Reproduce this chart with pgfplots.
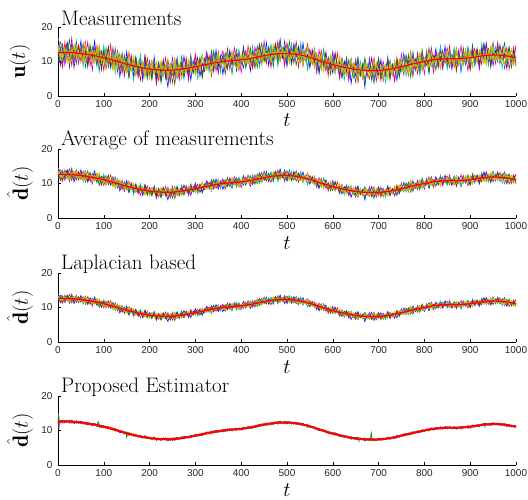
\documentclass[border=0pt]{standalone}
\usepackage{fontspec}
\setsansfont{Liberation Sans}
\usepackage{pgfplots}
\usepackage{pgfplotstable}
\pgfplotsset{compat=1.18}
\definecolor{mb}{rgb}{0,0,1}
\definecolor{mg}{rgb}{0,0.5,0}
\definecolor{mr}{rgb}{1,0,0}
\definecolor{mc}{rgb}{0,0.75,0.75}
\definecolor{mm}{rgb}{0.75,0,0.75}
\definecolor{my}{rgb}{0.75,0.75,0}
\definecolor{mk}{rgb}{0.25,0.25,0.25}
\pgfplotstableread{
t b n1 n2 n3 n4 n5 n6 n7
0 12.6 3 -5 2 7 -1 4 -3
5 12.6 -6 1 -2 3 5 -4 2
10 12.6 2 4 -7 -1 3 1 -5
15 12.6 -3 -2 5 -4 -6 3 1
20 12.6 5 -1 -3 2 1 -6 4
25 12.6 -1 6 1 -5 -2 2 -7
30 12.54 4 -3 -6 1 7 -1 3
35 12.48 -7 2 3 -2 -4 5 -1
40 12.42 1 -5 -1 6 2 -3 5
45 12.36 -2 3 4 -3 -5 1 -2
50 12.3 6 -1 -4 2 3 -2 1
55 12.2 -4 5 2 -6 -1 4 -3
60 12.1 2 -6 -2 4 6 -5 2
65 12.0 -5 1 6 -1 -3 2 -6
70 11.9 3 -2 -5 5 1 -1 4
75 11.8 -1 4 1 -3 -7 3 -2
80 11.66 7 -3 -1 2 4 -4 1
85 11.52 -3 2 5 -5 -2 6 -4
90 11.38 1 -7 -3 3 5 -2 3
95 11.24 -6 3 2 -1 -1 1 -5
100 11.1 4 -1 -6 6 2 -3 2
105 10.92 -2 5 3 -4 -5 5 -1
110 10.74 5 -4 -2 1 3 -1 6
115 10.56 -4 1 7 -2 -2 2 -3
120 10.38 2 -2 -4 4 6 -6 1
125 10.2 -1 6 1 -6 -3 3 -2
130 10.0 3 -5 -1 2 1 -2 5
135 9.8 -7 2 4 -3 -4 4 -1
140 9.6 1 -3 -5 5 4 -1 2
145 9.4 -3 4 2 -1 -6 2 -4
150 9.2 6 -1 -3 3 2 -5 3
155 9.04 -2 -6 6 -4 -1 1 -6
160 8.88 4 3 -2 1 5 -3 1
165 8.72 -5 -1 3 -7 -2 6 -2
170 8.56 2 5 -4 2 3 -2 4
175 8.4 -1 -4 1 -2 -5 3 -3
180 8.28 5 2 -6 6 1 -1 2
185 8.16 -6 -2 2 -3 -3 4 -1
190 8.04 3 6 -1 1 6 -4 5
195 7.92 -2 -3 5 -5 -1 2 -4
200 7.8 1 1 -3 3 4 -6 1
205 7.74 -4 -5 4 -1 -2 1 -2
210 7.68 6 3 -2 4 2 -2 3
215 7.62 -3 -1 1 -6 -7 5 -5
220 7.56 2 4 -5 2 3 -1 2
225 7.5 -5 -6 3 -2 -1 3 -1
230 7.5 4 1 -1 5 5 -4 4
235 7.5 -1 -3 6 -3 -4 2 -3
240 7.5 -8 5 -4 1 2 -3 1
245 7.5 3 -2 2 -4 -2 4 -6
250 7.5 -2 2 -6 3 6 -1 2
255 7.58 5 -7 1 -1 -3 2 -2
260 7.66 -4 3 4 6 1 -5 5
265 7.74 1 -1 -3 -2 -5 3 -1
270 7.82 -3 6 2 1 3 -2 3
275 7.9 6 -2 -1 -5 -1 1 -4
280 8.02 -1 1 5 3 4 -3 1
285 8.14 2 -4 -4 -1 -6 5 -2
290 8.26 -6 3 1 4 2 -1 6
295 8.38 3 -1 -2 -3 -2 2 -3
300 8.5 -2 5 6 2 5 -4 2
305 8.64 4 -3 -3 -6 -1 1 -1
310 8.78 -5 2 2 1 3 -2 4
315 8.92 1 -6 -5 5 -4 6 -5
320 9.06 -3 1 3 -2 1 -1 1
325 9.2 5 4 -1 3 6 -3 -2
330 9.32 -1 -2 4 -4 -2 2 3
335 9.44 2 6 -6 1 4 -5 -1
340 9.56 -4 -1 1 6 -3 3 5
345 9.68 6 3 -2 -1 1 -1 -4
350 9.8 -2 -5 5 2 -5 4 2
355 9.88 3 2 -3 -5 2 -2 -1
360 9.96 -6 -1 2 3 5 1 3
365 10.04 1 4 -1 -2 -1 -4 -6
370 10.12 -3 -3 6 4 -4 2 1
375 10.2 5 1 -4 -1 3 -1 4
380 10.26 -1 -6 2 -6 -2 5 -2
385 10.32 2 2 -2 2 6 -2 2
390 10.38 -5 5 3 -3 -1 1 -3
395 10.44 4 -2 -5 5 2 -6 1
400 10.5 -2 1 1 -1 -6 3 -1
405 10.6 6 -4 4 2 1 -1 5
410 10.7 -3 3 -3 -4 4 2 -4
415 10.8 1 -1 6 1 -2 -3 2
420 10.9 -6 5 -1 -2 3 4 -2
425 11.0 3 -2 -5 6 -4 -1 3
430 11.14 -1 2 2 -3 5 1 -5
435 11.28 5 -5 -2 1 -1 -4 1
440 11.42 -4 1 5 -5 2 3 6
445 11.56 2 6 -3 3 -3 -2 -1
450 11.7 -2 -3 1 -1 7 5 2
455 11.8 6 2 -4 4 -2 -1 -3
460 11.9 -5 -1 3 -2 1 2 4
465 12.0 1 4 -6 5 -5 -5 -2
470 12.1 -3 -6 2 -1 3 1 1
475 12.2 4 3 -1 2 -1 -2 5
480 12.22 -1 -2 6 -6 4 4 -4
485 12.24 7 5 -3 1 -3 -1 2
490 12.26 -2 -1 1 3 2 3 -1
495 12.28 3 2 -5 -3 -6 -3 6
500 12.3 -6 -4 4 2 5 1 -2
505 12.24 2 6 -2 -1 -1 -4 1
510 12.18 -4 -1 3 5 2 2 -5
515 12.12 5 3 -1 -4 -4 -1 3
520 12.06 -1 -5 5 1 6 5 -1
525 12.0 3 1 -6 -2 -2 -2 4
530 11.84 -3 4 2 6 1 1 -3
535 11.68 6 -2 -3 -3 -5 -6 2
540 11.52 -2 2 1 2 3 3 -1
545 11.36 1 -6 6 -5 -1 -1 5
550 11.2 -5 3 -2 3 4 2 -4
555 10.98 4 -1 3 -1 -3 -3 1
560 10.76 -1 5 -4 4 2 6 -2
565 10.54 2 -3 1 -6 -6 -1 3
570 10.32 -6 1 -1 1 5 2 -6
575 10.1 3 -4 5 -2 -1 -4 2
580 9.9 -2 6 -3 5 1 1 -1
585 9.7 5 -1 2 -3 -4 3 4
590 9.5 -3 2 -6 2 3 -2 -3
595 9.3 1 -5 4 -1 -2 5 1
600 9.1 -4 3 -1 6 6 -1 -2
605 8.94 6 -2 -2 -4 -3 -5 5
610 8.78 -1 1 6 1 1 2 -1
615 8.62 2 -6 -4 -2 -5 -1 2
620 8.46 -5 4 2 3 4 4 -5
625 8.3 3 -1 -3 -6 -1 -3 1
630 8.18 -2 5 1 2 2 1 3
635 8.06 4 -3 -5 -1 -6 -2 -2
640 7.94 -7 2 4 5 3 6 4
645 7.82 1 -4 -1 -3 -1 -4 -1
650 7.7 -3 1 3 1 5 2 -6
655 7.64 5 6 -6 -4 -2 -1 2
660 7.58 -2 -2 2 4 1 3 -3
665 7.52 2 3 -2 -2 -4 -5 1
670 7.46 -8 -5 5 6 2 1 5
675 7.4 3 1 -1 -1 -3 4 -2
680 7.4 -1 4 -4 3 6 -2 1
685 7.4 6 -1 1 -5 -1 2 -4
690 7.4 -4 -6 6 1 3 -3 3
695 7.4 1 2 -2 -2 -5 5 -1
700 7.4 -2 5 3 5 2 -1 6
705 7.48 5 -3 -5 -3 -2 1 -3
710 7.56 -5 1 1 2 4 -6 1
715 7.64 2 -2 -3 -6 -1 3 -2
720 7.72 -1 6 4 1 5 -1 4
725 7.8 4 -4 -1 4 -4 2 -5
730 7.94 -3 2 2 -1 1 -4 2
735 8.08 1 -1 -6 3 -6 5 -1
740 8.22 -6 3 5 -4 3 -2 3
745 8.36 3 -5 -2 2 -1 1 -4
750 8.5 -2 1 1 -2 6 4 1
755 8.66 6 4 -4 5 -2 -3 -2
760 8.82 -1 -2 3 -5 2 2 5
765 8.98 2 5 -1 1 -5 -1 -1
770 9.14 -4 -6 6 -3 1 -5 3
775 9.3 5 2 -3 6 4 3 -6
780 9.44 -3 -1 2 -1 -3 -2 2
785 9.58 1 3 -5 2 5 1 -1
790 9.72 -5 -3 1 -6 -1 6 4
795 9.86 4 6 4 3 2 -3 -3
800 10.0 -1 -2 -2 -2 -6 2 1
805 10.12 3 1 5 4 3 -1 -2
810 10.24 -6 -5 -3 -1 -2 -4 6
815 10.36 2 4 1 5 6 5 -1
820 10.48 -2 -1 -6 -4 -1 -2 2
825 10.6 5 2 3 1 4 1 -5
830 10.64 -4 -3 -1 -3 -3 3 3
835 10.68 1 6 4 6 1 -6 -1
840 10.72 -3 -2 -4 -1 -5 2 4
845 10.76 6 1 2 2 2 -1 -2
850 10.8 -1 -4 -2 -5 5 4 1
855 10.8 3 3 6 3 -2 -3 -4
860 10.8 -5 -1 -3 -1 1 1 2
865 10.8 2 5 1 4 -4 -2 -1
870 10.8 -2 -6 -5 -2 3 5 5
875 10.8 4 2 3 1 -1 -4 -3
880 10.86 -6 -1 -1 -6 6 1 1
885 10.92 1 4 5 3 -3 -1 -2
890 10.98 -3 -3 -2 -2 2 6 3
895 11.04 5 1 2 5 -6 -2 -1
900 11.1 -1 -5 -6 -1 1 2 -5
905 11.2 3 6 1 2 4 -5 2
910 11.3 -4 -2 4 -4 -2 3 -1
915 11.4 2 3 -3 1 3 -1 4
920 11.5 -6 -4 2 -3 -5 4 -3
925 11.6 4 1 -4 6 2 -2 1
930 11.66 -2 5 5 -1 -1 1 6
935 11.72 6 -2 -1 2 5 -6 -2
940 11.78 -1 2 3 -5 -3 3 3
945 11.84 3 -6 -5 3 1 -1 -4
950 11.9 -5 4 1 -2 6 5 1
955 11.86 2 -1 -2 4 -4 -3 -1
960 11.82 -3 3 6 -1 2 2 5
965 11.78 5 -4 -3 1 -2 -4 -3
970 11.74 -2 1 2 -6 4 1 2
975 11.7 1 6 -1 3 -6 4 -5
980 11.58 -6 -3 4 -2 1 -2 1
985 11.46 4 2 -6 5 3 3 4
990 11.34 -1 -5 1 -3 -1 -1 -2
995 11.22 3 1 -2 2 5 -5 3
1000 11.1 -4 5 6 -1 -3 2 -1
}\noise
\pgfplotstableread{
t y
0 12.6
25 12.6
50 12.3
75 11.8
100 11.1
125 10.2
150 9.2
175 8.4
200 7.8
225 7.5
250 7.5
275 7.9
300 8.5
325 9.2
350 9.8
375 10.2
400 10.5
425 11.0
450 11.7
475 12.2
500 12.3
525 12.0
550 11.2
575 10.1
600 9.1
625 8.3
650 7.7
675 7.4
700 7.4
725 7.8
750 8.5
775 9.3
800 10.0
825 10.6
850 10.8
875 10.8
900 11.1
925 11.6
950 11.9
975 11.7
1000 11.1
}\knots
\newcommand{\noiseplots}[2]{%
\addplot[mb, line width=0.55pt] table[x=t, y expr=\thisrow{b}+#1*\thisrow{n1}]{\noise};
\addplot[mg, line width=0.55pt] table[x=t, y expr=\thisrow{b}+#1*\thisrow{n2}]{\noise};
\addplot[mr, line width=0.55pt] table[x=t, y expr=\thisrow{b}+#1*\thisrow{n3}]{\noise};
\addplot[mc, line width=0.55pt] table[x=t, y expr=\thisrow{b}+#1*\thisrow{n4}]{\noise};
\addplot[mm, line width=0.55pt] table[x=t, y expr=\thisrow{b}+#1*\thisrow{n5}]{\noise};
\addplot[mk, line width=0.55pt] table[x=t, y expr=\thisrow{b}+#1*\thisrow{n7}]{\noise};
\addplot[my, line width=0.8pt] table[x=t, y expr=\thisrow{b}+#2*\thisrow{n6}]{\noise};
\addplot[my, line width=0.8pt] table[x=t, y expr=\thisrow{b}-#2*\thisrow{n2}]{\noise};
}
\pgfplotsset{
  panel/.style={
    scale only axis, width=458pt, height=69pt,
    xmin=0, xmax=1000, ymin=0, ymax=20,
    axis x line*=bottom, axis y line*=left,
    axis line style={-, black},
    tick align=inside, major tick length=3pt,
    tick style={black, line width=0.4pt},
    xtick={0,100,...,1000}, ytick={0,10,20},
    ticklabel style={font=\fontsize{10}{12}\selectfont\sffamily, text=black!85},
    /pgf/number format/assume math mode=true,
    /pgf/number format/1000 sep={},
    scaled x ticks=false,
    xticklabel style={yshift=-1pt},
    yticklabel style={xshift=-2pt},
    title style={at={(axis description cs:0,1)}, anchor=base west, inner sep=0pt, xshift=3pt, yshift=-2pt, font=\fontsize{21}{24}\selectfont},
    xlabel={$t$},
    xlabel style={at={(axis description cs:0.5,0)}, anchor=base, inner sep=0pt, yshift=-31pt, font=\fontsize{21}{24}\selectfont},
    ylabel style={at={(axis description cs:-0.083,0.5)}, anchor=center, inner sep=2pt, font=\fontsize{22}{26}\selectfont},
  }
}
\begin{document}
\begin{tikzpicture}
\useasboundingbox (-58pt,27pt) rectangle (470pt,-473pt);
\begin{axis}[panel, at={(0pt,0pt)}, anchor=north west, title={Measurements}, title style={yshift=-3pt}, ylabel={$\mathbf{u}(t)$}]
\noiseplots{0.62}{0.45}
\addplot[mr, line width=1.2pt, smooth] table[x=t, y=y]{\knots};
\end{axis}
\begin{axis}[panel, at={(0pt,-122pt)}, anchor=north west, title={Average of measurements}, ylabel={$\hat{\mathbf{d}}(t)$}]
\noiseplots{0.28}{0.22}
\addplot[mr, line width=1.3pt, smooth] table[x=t, y=y]{\knots};
\end{axis}
\begin{axis}[panel, at={(0pt,-246pt)}, anchor=north west, title={Laplacian based}, ylabel={$\hat{\mathbf{d}}(t)$}]
\noiseplots{0.2}{0.15}
\addplot[mr, line width=1.4pt, smooth] table[x=t, y=y]{\knots};
\end{axis}
\begin{axis}[panel, at={(0pt,-369pt)}, anchor=north west, title={Proposed Estimator}, ylabel={$\hat{\mathbf{d}}(t)$}]
\noiseplots{0.07}{0.05}
\addplot[mg, line width=0.6pt] coordinates {(0,12.6) (1,15.0) (3,12.6)};
\addplot[mm, line width=0.6pt] coordinates {(0,12.6) (2,10.6) (4,12.6)};
\addplot[mg, line width=0.6pt] coordinates {(85,11.5) (88,12.6) (91,11.4)};
\addplot[mg, line width=0.6pt] coordinates {(148,9.3) (150,8.0) (152,9.2)};
\addplot[mg, line width=0.6pt] coordinates {(682,7.4) (684,9.4) (686,7.4)};
\addplot[mc, line width=0.6pt] coordinates {(655,7.6) (657,6.7) (659,7.6)};
\addplot[mc, line width=0.6pt] coordinates {(930,11.7) (932,10.9) (934,11.7)};
\addplot[mr, line width=2pt, smooth] table[x=t, y=y]{\knots};
\end{axis}
\end{tikzpicture}
\end{document}
